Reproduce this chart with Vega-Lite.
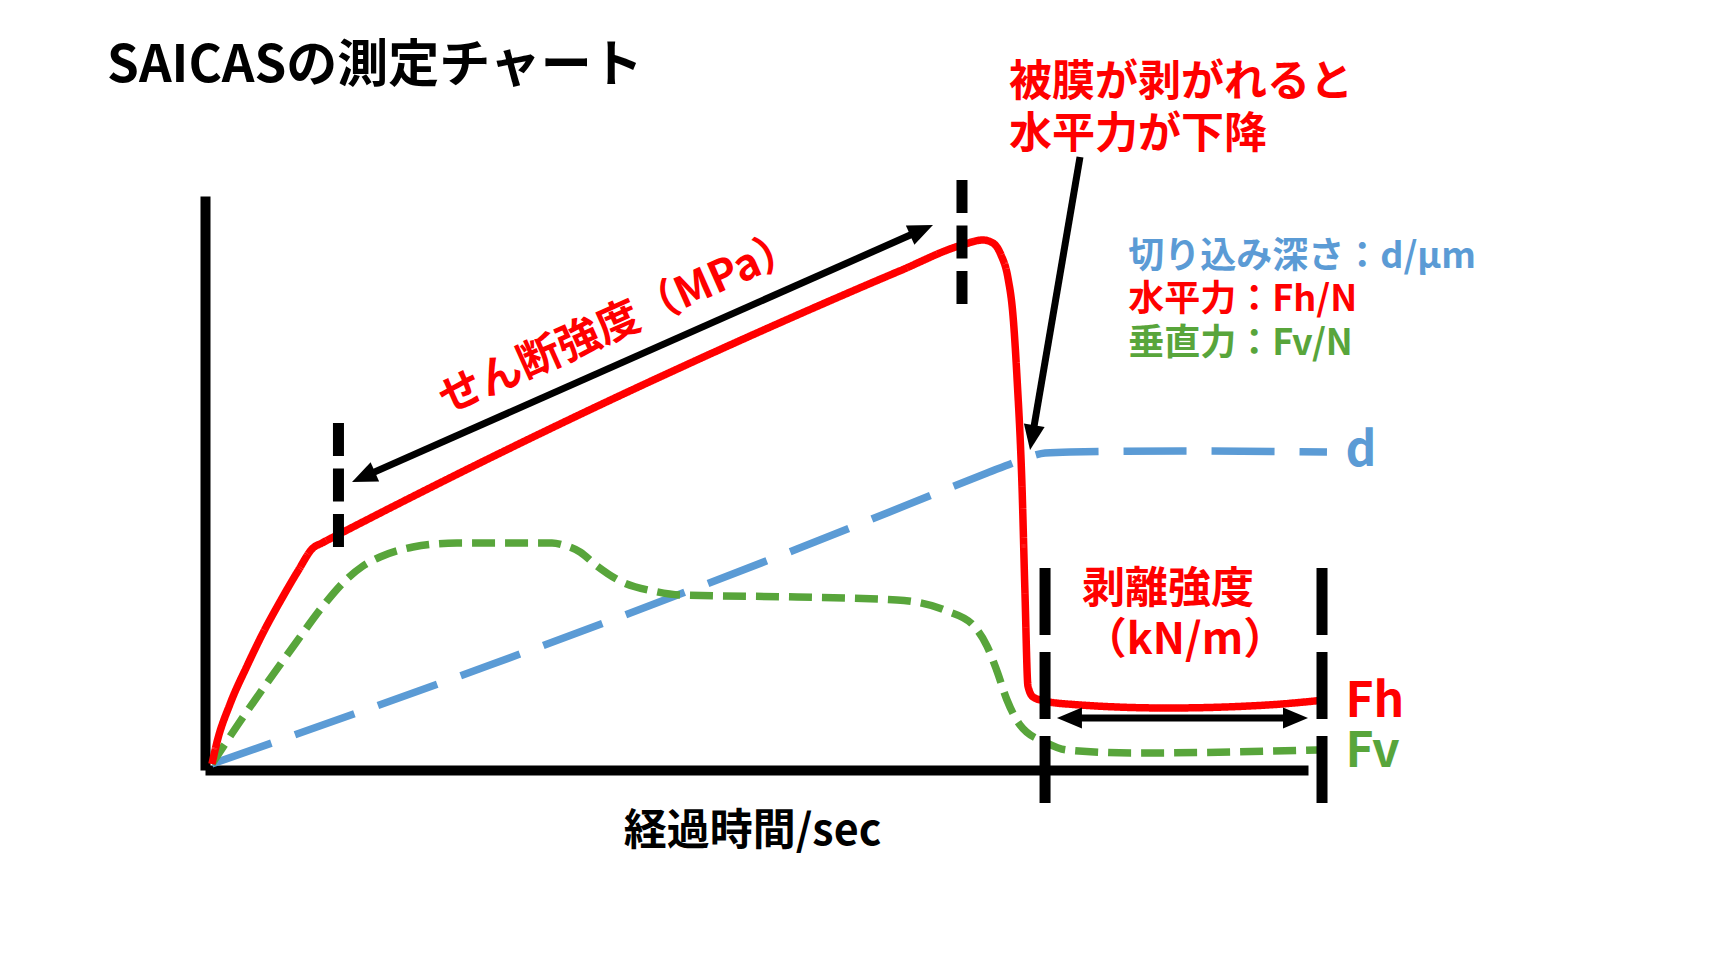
{
  "$schema": "https://vega.github.io/schema/vega-lite/v6.json",
  "width": 1103,
  "height": 574,
  "autosize": {"type": "none"},
  "padding": {"left": 205, "top": 196, "right": 416, "bottom": 199},
  "background": "white",
  "config": {"view": {"stroke": null}},
  "datasets": {
    "curves": [
      {"series": "d", "t": 0.63, "v": 1.05},
      {"series": "d", "t": 25.84, "v": 18.29},
      {"series": "d", "t": 53.67, "v": 38.5},
      {"series": "d", "t": 70.9, "v": 51.74},
      {"series": "d", "t": 73.71, "v": 53.83},
      {"series": "d", "t": 74.98, "v": 54.7},
      {"series": "d", "t": 76.16, "v": 55.23},
      {"series": "d", "t": 78.42, "v": 55.4},
      {"series": "d", "t": 90.21, "v": 55.57},
      {"series": "d", "t": 101.72, "v": 55.4},
      {"series": "Fv", "t": 0.63, "v": 1.05},
      {"series": "Fv", "t": 2.9, "v": 7.67},
      {"series": "Fv", "t": 5.62, "v": 15.16},
      {"series": "Fv", "t": 8.16, "v": 21.95},
      {"series": "Fv", "t": 10.7, "v": 28.57},
      {"series": "Fv", "t": 12.87, "v": 33.28},
      {"series": "Fv", "t": 14.32, "v": 35.54},
      {"series": "Fv", "t": 15.87, "v": 37.11},
      {"series": "Fv", "t": 18.86, "v": 38.85},
      {"series": "Fv", "t": 22.85, "v": 39.55},
      {"series": "Fv", "t": 31.46, "v": 39.55},
      {"series": "Fv", "t": 32.46, "v": 39.2},
      {"series": "Fv", "t": 34.0, "v": 37.98},
      {"series": "Fv", "t": 35.54, "v": 35.54},
      {"series": "Fv", "t": 37.62, "v": 32.93},
      {"series": "Fv", "t": 40.62, "v": 31.18},
      {"series": "Fv", "t": 43.06, "v": 30.49},
      {"series": "Fv", "t": 53.67, "v": 30.14},
      {"series": "Fv", "t": 62.74, "v": 29.62},
      {"series": "Fv", "t": 67.27, "v": 27.7},
      {"series": "Fv", "t": 69.63, "v": 25.26},
      {"series": "Fv", "t": 70.9, "v": 21.6},
      {"series": "Fv", "t": 71.8, "v": 17.25},
      {"series": "Fv", "t": 72.71, "v": 12.2},
      {"series": "Fv", "t": 73.89, "v": 7.84},
      {"series": "Fv", "t": 76.34, "v": 4.7},
      {"series": "Fv", "t": 78.15, "v": 3.48},
      {"series": "Fv", "t": 84.13, "v": 2.96},
      {"series": "Fv", "t": 100.82, "v": 3.48},
      {"series": "Fh", "t": 0.63, "v": 1.05},
      {"series": "Fh", "t": 1.09, "v": 4.88},
      {"series": "Fh", "t": 2.27, "v": 11.5},
      {"series": "Fh", "t": 3.81, "v": 18.12},
      {"series": "Fh", "t": 5.35, "v": 24.22},
      {"series": "Fh", "t": 6.89, "v": 29.62},
      {"series": "Fh", "t": 8.43, "v": 34.67},
      {"series": "Fh", "t": 9.79, "v": 38.68},
      {"series": "Fh", "t": 10.61, "v": 39.55},
      {"series": "Fh", "t": 12.24, "v": 41.17},
      {"series": "Fh", "t": 17.68, "v": 46.52},
      {"series": "Fh", "t": 26.75, "v": 55.21},
      {"series": "Fh", "t": 35.81, "v": 63.59},
      {"series": "Fh", "t": 44.88, "v": 71.67},
      {"series": "Fh", "t": 53.94, "v": 79.46},
      {"series": "Fh", "t": 63.01, "v": 86.97},
      {"series": "Fh", "t": 68.63, "v": 91.46},
      {"series": "Fh", "t": 70.53, "v": 92.33},
      {"series": "Fh", "t": 71.44, "v": 91.81},
      {"series": "Fh", "t": 72.17, "v": 89.72},
      {"series": "Fh", "t": 72.8, "v": 85.71},
      {"series": "Fh", "t": 73.25, "v": 79.27},
      {"series": "Fh", "t": 73.62, "v": 68.29},
      {"series": "Fh", "t": 74.07, "v": 49.48},
      {"series": "Fh", "t": 74.34, "v": 30.84},
      {"series": "Fh", "t": 74.61, "v": 14.63},
      {"series": "Fh", "t": 75.07, "v": 12.72},
      {"series": "Fh", "t": 76.16, "v": 12.02},
      {"series": "Fh", "t": 78.15, "v": 11.5},
      {"series": "Fh", "t": 87.22, "v": 10.8},
      {"series": "Fh", "t": 96.28, "v": 11.32},
      {"series": "Fh", "t": 101.54, "v": 12.2}
    ],
    "dividers_short": [
      {"t": 12.1, "v": 60.45, "v2": 38.85},
      {"t": 68.63, "v": 102.79, "v2": 81.18}
    ],
    "dividers_long": [
      {"t": 76.16, "v": 35.19, "v2": -5.75},
      {"t": 101.27, "v": 35.19, "v2": -5.75}
    ],
    "shafts": [
      {"arrow": "shear", "t": 14.57, "v": 51.24, "t2": 64.76, "v2": 93.89},
      {"arrow": "drop", "t": 79.33, "v": 106.79, "t2": 75.01, "v2": 58.15},
      {"arrow": "peel", "t": 78.42, "v": 9.06, "t2": 98.82, "v2": 9.06}
    ],
    "heads": [
      {"arrow": "shear", "t": 13.33, "v": 50.17, "heading": 246.1},
      {"arrow": "shear", "t": 66.0, "v": 94.95, "heading": 66.1},
      {"arrow": "drop", "t": 74.8, "v": 55.75, "heading": 189.7},
      {"arrow": "peel", "t": 77.24, "v": 9.06, "heading": 270},
      {"arrow": "peel", "t": 100.0, "v": 9.06, "heading": 90}
    ],
    "title": [
      {"t": -8.88, "v": 122.47, "label": "SAICASの測定チャート"}
    ],
    "red_left": [
      {"t": 72.89, "v": 119.69, "label": "被膜が剥がれると"},
      {"t": 72.89, "v": 110.63, "label": "水平力が下降"}
    ],
    "red_center": [
      {"t": 87.31, "v": 31.36, "label": "剥離強度"},
      {"t": 88.85, "v": 22.47, "label": "（kN/m）"}
    ],
    "shear_label": [
      {"t": 37.62, "v": 77.87, "label": "せん断強度（MPa）"}
    ],
    "legend_rows": [
      {"series": "d", "t": 83.7, "v": 89.37, "label": "切り込み深さ：d/μm"},
      {"series": "Fh", "t": 83.7, "v": 81.88, "label": "水平力：Fh/N"},
      {"series": "Fv", "t": 83.7, "v": 74.22, "label": "垂直力：Fv/N"}
    ],
    "end_labels": [
      {"series": "d", "t": 103.4, "v": 55.4, "label": "d"},
      {"series": "Fh", "t": 103.4, "v": 11.67, "label": "Fh"},
      {"series": "Fv", "t": 103.4, "v": 2.96, "label": "Fv"}
    ]
  },
  "encoding": {
    "x": {
      "field": "t",
      "type": "quantitative",
      "scale": {"domain": [0, 100], "nice": false, "zero": false},
      "axis": {
        "title": "経過時間/sec",
        "domain": true,
        "domainColor": "black",
        "domainWidth": 10,
        "ticks": false,
        "labels": false,
        "grid": false,
        "titleFont": "Noto Sans CJK JP",
        "titleFontSize": 43,
        "titleFontWeight": "bold",
        "titleColor": "black",
        "titlePadding": 40,
        "titleX": 547
      }
    },
    "y": {
      "field": "v",
      "type": "quantitative",
      "scale": {"domain": [0, 100], "nice": false, "zero": false},
      "axis": {
        "title": null,
        "domain": true,
        "domainColor": "black",
        "domainWidth": 10,
        "ticks": false,
        "labels": false,
        "grid": false
      }
    }
  },
  "layer": [
    {
      "data": {"name": "curves"},
      "mark": {"type": "line", "interpolate": "monotone", "strokeWidth": 7.5},
      "encoding": {
        "color": {
          "field": "series",
          "type": "nominal",
          "scale": {"domain": ["d", "Fh", "Fv"], "range": ["#5B9BD5", "#FF0000", "#58A53B"]},
          "legend": null
        },
        "strokeDash": {
          "field": "series",
          "type": "nominal",
          "scale": {"domain": ["d", "Fh", "Fv"], "range": [[63, 25], [1, 0], [23, 10]]},
          "legend": null
        }
      }
    },
    {
      "data": {"name": "dividers_short"},
      "mark": {"type": "rule", "strokeWidth": 11, "color": "black", "strokeDash": [33, 12.5]},
      "encoding": {"y2": {"field": "v2"}}
    },
    {
      "data": {"name": "dividers_long"},
      "mark": {"type": "rule", "strokeWidth": 11, "color": "black", "strokeDash": [67, 17]},
      "encoding": {"y2": {"field": "v2"}}
    },
    {
      "data": {"name": "shafts"},
      "mark": {"type": "rule", "strokeWidth": 7, "color": "black"},
      "encoding": {"x2": {"field": "t2"}, "y2": {"field": "v2"}}
    },
    {
      "data": {"name": "heads"},
      "mark": {"type": "point", "shape": "M0,0L0.42,1L-0.42,1Z", "filled": true, "color": "black", "opacity": 1, "size": 2500, "strokeWidth": 0},
      "encoding": {
        "angle": {"field": "heading", "type": "quantitative", "scale": {"domain": [0, 360], "range": [0, 360]}}
      }
    },
    {
      "data": {"name": "title"},
      "mark": {"type": "text", "font": "Noto Sans CJK JP", "fontWeight": "bold", "fontSize": 51, "align": "left", "baseline": "middle", "color": "black"},
      "encoding": {"text": {"field": "label"}}
    },
    {
      "data": {"name": "red_left"},
      "mark": {"type": "text", "font": "Noto Sans CJK JP", "fontWeight": "bold", "fontSize": 43, "align": "left", "baseline": "middle", "color": "#FF0000"},
      "encoding": {"text": {"field": "label"}}
    },
    {
      "data": {"name": "red_center"},
      "mark": {"type": "text", "font": "Noto Sans CJK JP", "fontWeight": "bold", "fontSize": 43, "align": "center", "baseline": "middle", "color": "#FF0000"},
      "encoding": {"text": {"field": "label"}}
    },
    {
      "data": {"name": "shear_label"},
      "mark": {"type": "text", "font": "Noto Sans CJK JP", "fontWeight": "bold", "fontSize": 43, "align": "center", "baseline": "middle", "color": "#FF0000", "angle": 336},
      "encoding": {"text": {"field": "label"}}
    },
    {
      "data": {"name": "legend_rows"},
      "mark": {"type": "text", "font": "Noto Sans CJK JP", "fontWeight": "bold", "fontSize": 36, "align": "left", "baseline": "middle"},
      "encoding": {
        "text": {"field": "label"},
        "color": {
          "field": "series",
          "type": "nominal",
          "scale": {"domain": ["d", "Fh", "Fv"], "range": ["#5B9BD5", "#FF0000", "#58A53B"]},
          "legend": null
        }
      }
    },
    {
      "data": {"name": "end_labels"},
      "mark": {"type": "text", "font": "Noto Sans CJK JP", "fontWeight": "bold", "fontSize": 48, "align": "left", "baseline": "middle"},
      "encoding": {
        "text": {"field": "label"},
        "color": {
          "field": "series",
          "type": "nominal",
          "scale": {"domain": ["d", "Fh", "Fv"], "range": ["#5B9BD5", "#FF0000", "#58A53B"]},
          "legend": null
        }
      }
    }
  ]
}
